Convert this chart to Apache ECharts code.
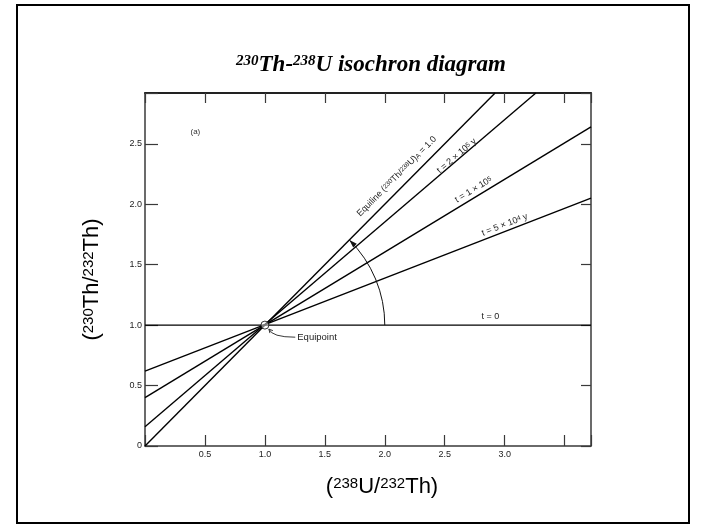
<!DOCTYPE html>
<html><head><meta charset="utf-8">
<script src="https://cdn.jsdelivr.net/npm/echarts@6/dist/echarts.min.js"></script>
<style>html,body{margin:0;padding:0;background:#fff}#c{width:706px;height:528px}</style>
</head><body><div id="c"></div>
<script>
// ---- data ----
const xTickLabels = ['0.5', '1.0', '1.5', '2.0', '2.5', '3.0'];
const yTickLabels = ['0', '0.5', '1.0', '1.5', '2.0', '2.5'];
const xRange = [0, 3.72];
const yRange = [0, 2.92];
const equiline = [[0, 0], [2.92, 2.92]];
const iso2e5 = [[0, 0.16], [3.26, 2.92]];
const iso1e5 = [[0, 0.40], [3.72, 2.64]];
const iso5e4 = [[0, 0.62], [3.72, 2.05]];
const iso0 = [[0, 1.0], [3.72, 1.0]];
const equipoint = [[1.0, 1.0]];
const arcEdge = [2.0, 1.0];
const arcEnd = [1.707, 1.707];
// label anchors (data coords) and the line each follows
const lineLabels = [
  { text: 'Equiline ({s|230}Th/{s|238}U){b|A} = 1.0', at: [2.10, 2.23], line: equiline },
  { text: 't = 2 × 10{s|5} y', at: [2.60, 2.40], line: iso2e5 },
  { text: 't = 1 × 10{s|5}', at: [2.74, 2.12], line: iso1e5 },
  { text: 't = 5 × 10{s|4} y', at: [3.00, 1.83], line: iso5e4 },
  { text: 't = 0', at: [2.88, 1.07], line: iso0 }
];
const panelLabel = { text: '(a)', at: [0.42, 2.60] };
const equipointLabel = { text: 'Equipoint', at: [1.27, 0.90] };

const chart = echarts.init(document.getElementById('c'), null, { renderer: 'canvas' });
const FONT = 'Liberation Sans, Arial, sans-serif';
const SERIF = 'Liberation Serif, Times New Roman, serif';
const axisColor = '#3a3a3a';

function fmt(labels) {
  return function (v) {
    for (const l of labels) if (Math.abs(parseFloat(l) - v) < 1e-6) return l;
    return '';
  };
}
function lineSeries(name, data) {
  return {
    name, type: 'line', data, showSymbol: false, symbol: 'none',
    lineStyle: { color: '#000', width: 1.4 }, silent: true, z: 2
  };
}
const baseAxis = { type: 'value', splitLine: { show: false } };

chart.setOption({
  animation: false,
  backgroundColor: '#fff',
  title: {
    text: '{s|230}{n|Th-}{s|238}{n|U isochron diagram}',
    left: 366, top: 49, textAlign: 'center',
    textStyle: {
      rich: {
        n: { fontFamily: SERIF, fontStyle: 'italic', fontWeight: 'bold', fontSize: 23, color: '#000', verticalAlign: 'bottom' },
        s: { fontFamily: SERIF, fontStyle: 'italic', fontWeight: 'bold', fontSize: 15, color: '#000', verticalAlign: 'top' }
      }
    }
  },
  grid: { left: 145, right: 115, top: 93, bottom: 82 },
  xAxis: [
    Object.assign({}, baseAxis, {
      position: 'bottom', min: xRange[0], max: xRange[1], interval: 0.5,
      axisLine: { show: true, onZero: false, lineStyle: { color: axisColor, width: 1.5 } },
      axisTick: { show: true, inside: true, length: 11, lineStyle: { color: axisColor, width: 1.2 } },
      axisLabel: { formatter: fmt(xTickLabels), fontSize: 9, color: '#222', margin: 4, fontFamily: FONT },
      name: '{n|(}{s|238}{n|U/}{s|232}{n|Th)}', nameLocation: 'middle', nameGap: 30,
      nameTextStyle: {
        padding: [0, 0, 0, 28],
        rich: {
          n: { fontSize: 22, fontFamily: FONT, color: '#000', verticalAlign: 'bottom' },
          s: { fontSize: 15, fontFamily: FONT, color: '#000', verticalAlign: 'top' }
        }
      }
    }),
    Object.assign({}, baseAxis, {
      position: 'top', min: xRange[0], max: xRange[1], interval: 0.5,
      axisLine: { show: true, onZero: false, lineStyle: { color: '#222', width: 2 } },
      axisTick: { show: true, inside: true, length: 10, lineStyle: { color: axisColor, width: 1.2 } },
      axisLabel: { show: false }
    })
  ],
  yAxis: [
    Object.assign({}, baseAxis, {
      position: 'left', min: yRange[0], max: yRange[1], interval: 0.5,
      axisLine: { show: true, onZero: false, lineStyle: { color: axisColor, width: 1.5 } },
      axisTick: { show: true, inside: true, length: 13, lineStyle: { color: axisColor, width: 1.2 } },
      axisLabel: { formatter: fmt(yTickLabels), fontSize: 9, color: '#222', margin: 3, fontFamily: FONT },
      name: '{n|(}{s|230}{n|Th/}{s|232}{n|Th)}', nameLocation: 'middle', nameGap: 42,
      nameTextStyle: {
        padding: [0, 20, 0, 0],
        rich: {
          n: { fontSize: 22, fontFamily: FONT, color: '#000', verticalAlign: 'bottom' },
          s: { fontSize: 15, fontFamily: FONT, color: '#000', verticalAlign: 'top' }
        }
      }
    }),
    Object.assign({}, baseAxis, {
      position: 'right', min: yRange[0], max: yRange[1], interval: 0.5,
      axisLine: { show: true, onZero: false, lineStyle: { color: axisColor, width: 1.5 } },
      axisTick: { show: true, inside: true, length: 10, lineStyle: { color: axisColor, width: 1.2 } },
      axisLabel: { show: false }
    })
  ],
  series: [
    lineSeries('Equiline', equiline),
    lineSeries('t = 2×10^5 y', iso2e5),
    lineSeries('t = 1×10^5 y', iso1e5),
    lineSeries('t = 5×10^4 y', iso5e4),
    lineSeries('t = 0', iso0),
    {
      name: 'Equipoint', type: 'scatter', data: equipoint, symbol: 'circle', symbolSize: 8,
      itemStyle: { color: 'rgba(255,255,255,0.6)', borderColor: '#000', borderWidth: 1 }, z: 5, silent: true
    }
  ]
});

// ---- annotations positioned through the chart's own scales ----
const P = (pt) => chart.convertToPixel({ xAxisIndex: 0, yAxisIndex: 0 }, pt);
const graphics = [];
graphics.push({
  type: 'rect', shape: { x: 17, y: 5, width: 672, height: 518 },
  style: { fill: 'none', stroke: '#000', lineWidth: 2 }, silent: true, z: 10
});
const smallRich = {
  s: { fontSize: 6.5, fontFamily: FONT, fill: '#222', verticalAlign: 'top' },
  b: { fontSize: 6.5, fontFamily: FONT, fill: '#222', verticalAlign: 'bottom' }
};
for (const lb of lineLabels) {
  const a = P(lb.line[0]), b = P(lb.line[1]);
  const ang = Math.atan2(-(b[1] - a[1]), b[0] - a[0]);
  const p = P(lb.at);
  graphics.push({
    type: 'text', x: p[0], y: p[1], rotation: ang, silent: true, z: 6,
    style: {
      text: lb.text, fontSize: 9, fontFamily: FONT, fill: '#222',
      align: 'center', verticalAlign: 'middle', rich: smallRich
    }
  });
}
{
  const p = P(panelLabel.at);
  graphics.push({ type: 'text', x: p[0], y: p[1], silent: true,
    style: { text: panelLabel.text, fontSize: 8, fontFamily: FONT, fill: '#333', align: 'center', verticalAlign: 'middle' } });
}
// arc with arrow
const c = P(equipoint[0]);
const e = P(arcEdge);
const r = e[0] - c[0];
const endP = P(arcEnd);
const endAng = Math.atan2(endP[1] - c[1], endP[0] - c[0]);
graphics.push({
  type: 'arc', shape: { cx: c[0], cy: c[1], r: r, startAngle: endAng, endAngle: 0, clockwise: true },
  style: { fill: 'none', stroke: '#111', lineWidth: 1 }, silent: true, z: 4
});
{
  const tip = [c[0] + r * Math.cos(endAng), c[1] + r * Math.sin(endAng)];
  const d = [Math.sin(endAng), -Math.cos(endAng)];
  const base = [tip[0] - d[0] * 8, tip[1] - d[1] * 8];
  const pp = [-d[1], d[0]];
  graphics.push({
    type: 'polygon', silent: true, z: 4,
    shape: { points: [tip, [base[0] + pp[0] * 2.5, base[1] + pp[1] * 2.5], [base[0] - pp[0] * 2.5, base[1] - pp[1] * 2.5]] },
    style: { fill: '#111' }
  });
}
// Equipoint label + curved pointer
{
  const p = P(equipointLabel.at);
  graphics.push({ type: 'text', x: p[0], y: p[1], silent: true, z: 6,
    style: { text: equipointLabel.text, fontSize: 9.5, fontFamily: FONT, fill: '#222', align: 'left', verticalAlign: 'middle' } });
  const s = [c[0] + 4, c[1] + 4];
  const t = [p[0] - 2, p[1]];
  graphics.push({
    type: 'bezierCurve', silent: true, z: 6,
    shape: { x1: s[0], y1: s[1], x2: t[0], y2: t[1], cpx1: s[0] + 3, cpy1: t[1] },
    style: { stroke: '#222', lineWidth: 0.9, fill: 'none' }
  });
  graphics.push({
    type: 'polyline', silent: true, z: 6,
    shape: { points: [[s[0] + 1, s[1] + 4], s, [s[0] + 4, s[1] + 1.5]] },
    style: { stroke: '#222', lineWidth: 0.9, fill: 'none' }
  });
}
chart.setOption({ graphic: graphics });
</script>
</body></html>
